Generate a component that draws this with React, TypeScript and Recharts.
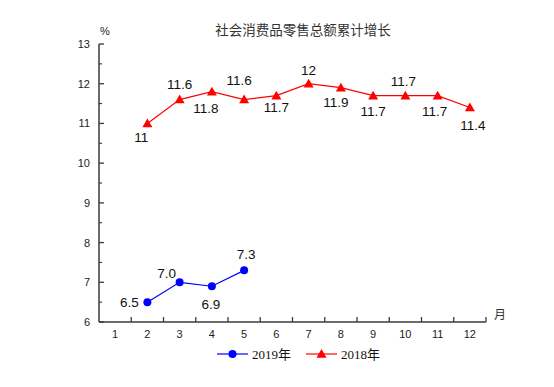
import React from "react";
import { LineChart, Line, XAxis, YAxis, LabelList } from "recharts";

// ---- data ----
const months: number[] = [1, 2, 3, 4, 5, 6, 7, 8, 9, 10, 11, 12];
const sales2019: (number | null)[] = [null, 6.5, 7.0, 6.9, 7.3, null, null, null, null, null, null, null];
const sales2018: (number | null)[] = [null, 11.0, 11.6, 11.8, 11.6, 11.7, 12.0, 11.9, 11.7, 11.7, 11.7, 11.4];
const yTicks: number[] = [6, 7, 8, 9, 10, 11, 12, 13];
const title = "社会消费品零售总额累计增长";
const yUnit = "%";
const xUnit = "月";
const name2019 = "2019年";
const name2018 = "2018年";

// label placement (style only)
const offsets2019: [number, number][] = [
  [0, 0], [-18, 0], [-13, -9], [-1, 18], [2, -16],
  [0, 0], [0, 0], [0, 0], [0, 0], [0, 0], [0, 0], [0, 0],
];
const offsets2018: [number, number][] = [
  [0, 0], [-6, 14], [0, -15], [-6, 17], [-5, -19], [0, 12],
  [0, -13], [-5, 15], [0, 16], [-2, -14], [-3, 16], [3, 18],
];

const data = months.map((m, i) => ({ month: m, v2019: sales2019[i], v2018: sales2018[i] }));

// ---- layout ----
const W = 538;
const H = 371;
const PLOT_L = 91;
const PLOT_R = 478;
const PLOT_T = 36;
const PLOT_B = 314;
const Y_AXIS_W = 40;
const X_AXIS_H = 30;
const HALF_BAND = (PLOT_R - PLOT_L) / months.length / 2;
const Y_STEP = (PLOT_B - PLOT_T) / (yTicks.length - 1);

const AXIS_COLOR = "#3a3a3a";
const TICK_FONT = "'Liberation Sans', Arial, sans-serif";

const XTick = (props: any) => {
  const { x, payload } = props;
  return (
    <g>
      <line x1={x + HALF_BAND} x2={x + HALF_BAND} y1={PLOT_B} y2={PLOT_B - 5} stroke={AXIS_COLOR} strokeWidth={1.3} />
      <text x={x} y={PLOT_B + 12} textAnchor="middle" dominantBaseline="central" fontSize={11} fontFamily={TICK_FONT} fill="#222">
        {payload.value}
      </text>
    </g>
  );
};

const YTick = (props: any) => {
  const { y, payload } = props;
  const isTop = payload.value === yTicks[yTicks.length - 1];
  return (
    <g>
      <line x1={PLOT_L} x2={PLOT_L + 5} y1={y} y2={y} stroke={AXIS_COLOR} strokeWidth={1.3} />
      {!isTop && (
        <line x1={PLOT_L} x2={PLOT_L + 3} y1={y - Y_STEP / 2} y2={y - Y_STEP / 2} stroke={AXIS_COLOR} strokeWidth={1.1} />
      )}
      <text x={PLOT_L - 9} y={y} textAnchor="end" dominantBaseline="central" fontSize={11} fontFamily={TICK_FONT} fill="#222">
        {payload.value}
      </text>
    </g>
  );
};

const Triangle = (props: any) => {
  const { cx, cy, index } = props;
  if (cx == null || cy == null || props.value == null) return <g key={`t-${index}`} />;
  const s = 5;
  return (
    <path
      key={`t-${index}`}
      d={`M${cx},${cy - s} L${cx + s},${cy + s * 0.75} L${cx - s},${cy + s * 0.75} Z`}
      fill="#ff0000"
    />
  );
};

const Circle = (props: any) => {
  const { cx, cy, index } = props;
  if (cx == null || cy == null || props.value == null) return <g key={`c-${index}`} />;
  return <circle key={`c-${index}`} cx={cx} cy={cy} r={4} fill="#0000ff" />;
};

const makeLabel = (offsets: [number, number][], fmt: (v: number) => string) => (props: any) => {
  const { x, y, value, index } = props;
  if (value == null || x == null || y == null) return null;
  const [dx, dy] = offsets[index] || [0, 0];
  return (
    <text
      x={x + dx}
      y={y + dy}
      textAnchor="middle"
      dominantBaseline="central"
      fontSize={13.5}
      fontFamily={TICK_FONT}
      fill="#111"
    >
      {fmt(value)}
    </text>
  );
};

const label2019 = makeLabel(offsets2019, (v) => v.toFixed(1));
const label2018 = makeLabel(offsets2018, (v) => String(v));

export default function App() {
  return (
    <div style={{ position: "relative", width: W, height: H }}>
      <LineChart
        width={W}
        height={H}
        data={data}
        margin={{ top: PLOT_T, left: PLOT_L - Y_AXIS_W, right: W - PLOT_R, bottom: H - PLOT_B - X_AXIS_H }}
      >
        <XAxis
          dataKey="month"
          type="number"
          domain={[0.5, 12.5]}
          ticks={months}
          interval={0}
          height={X_AXIS_H}
          tickLine={false}
          axisLine={{ stroke: AXIS_COLOR, strokeWidth: 1.5 }}
          tick={<XTick />}
          allowDataOverflow
        />
        <YAxis
          type="number"
          domain={[6, 13]}
          ticks={yTicks}
          interval={0}
          width={Y_AXIS_W}
          tickLine={false}
          axisLine={{ stroke: AXIS_COLOR, strokeWidth: 1.5 }}
          tick={<YTick />}
          allowDataOverflow
        />
        <Line
          dataKey="v2019"
          name={name2019}
          stroke="#0000ff"
          strokeWidth={1.2}
          dot={Circle}
          activeDot={false}
          isAnimationActive={false}
        >
          <LabelList dataKey="v2019" content={label2019} />
        </Line>
        <Line
          dataKey="v2018"
          name={name2018}
          stroke="#ff0000"
          strokeWidth={1.2}
          dot={Triangle}
          activeDot={false}
          isAnimationActive={false}
        >
          <LabelList dataKey="v2018" content={label2018} />
        </Line>
      </LineChart>

      <div
        style={{
          position: "absolute",
          left: 295,
          top: 21,
          transform: "translate(-50%, -50%)",
          fontFamily: "'Noto Sans CJK SC', sans-serif",
          fontSize: 13.5,
          color: "#333",
          whiteSpace: "nowrap",
        }}
      >
        {title}
      </div>
      <div
        style={{
          position: "absolute",
          left: 97,
          top: 23,
          transform: "translate(-50%, -50%)",
          fontFamily: TICK_FONT,
          fontSize: 11,
          color: "#222",
        }}
      >
        {yUnit}
      </div>
      <div
        style={{
          position: "absolute",
          left: 492,
          top: 305,
          transform: "translate(-50%, -50%)",
          fontFamily: "'Noto Sans CJK SC', sans-serif",
          fontSize: 12,
          color: "#333",
        }}
      >
        {xUnit}
      </div>

      <svg style={{ position: "absolute", left: 0, top: 336 }} width={W} height={22}>
        <line x1={209} x2={240} y1={10} y2={10} stroke="#0000ff" strokeWidth={1.2} />
        <circle cx={224.5} cy={10} r={4} fill="#0000ff" />
        <text x={244} y={10} dominantBaseline="central" fontSize={13} fontFamily="'Liberation Serif', 'Times New Roman', 'Noto Sans CJK SC', serif" fill="#111">
          {name2019}
        </text>
        <line x1={298} x2={329} y1={10} y2={10} stroke="#ff0000" strokeWidth={1.2} />
        <path d="M313.5,5 L318.5,13.75 L308.5,13.75 Z" fill="#ff0000" />
        <text x={333} y={10} dominantBaseline="central" fontSize={13} fontFamily="'Liberation Serif', 'Times New Roman', 'Noto Sans CJK SC', serif" fill="#111">
          {name2018}
        </text>
      </svg>
    </div>
  );
}
